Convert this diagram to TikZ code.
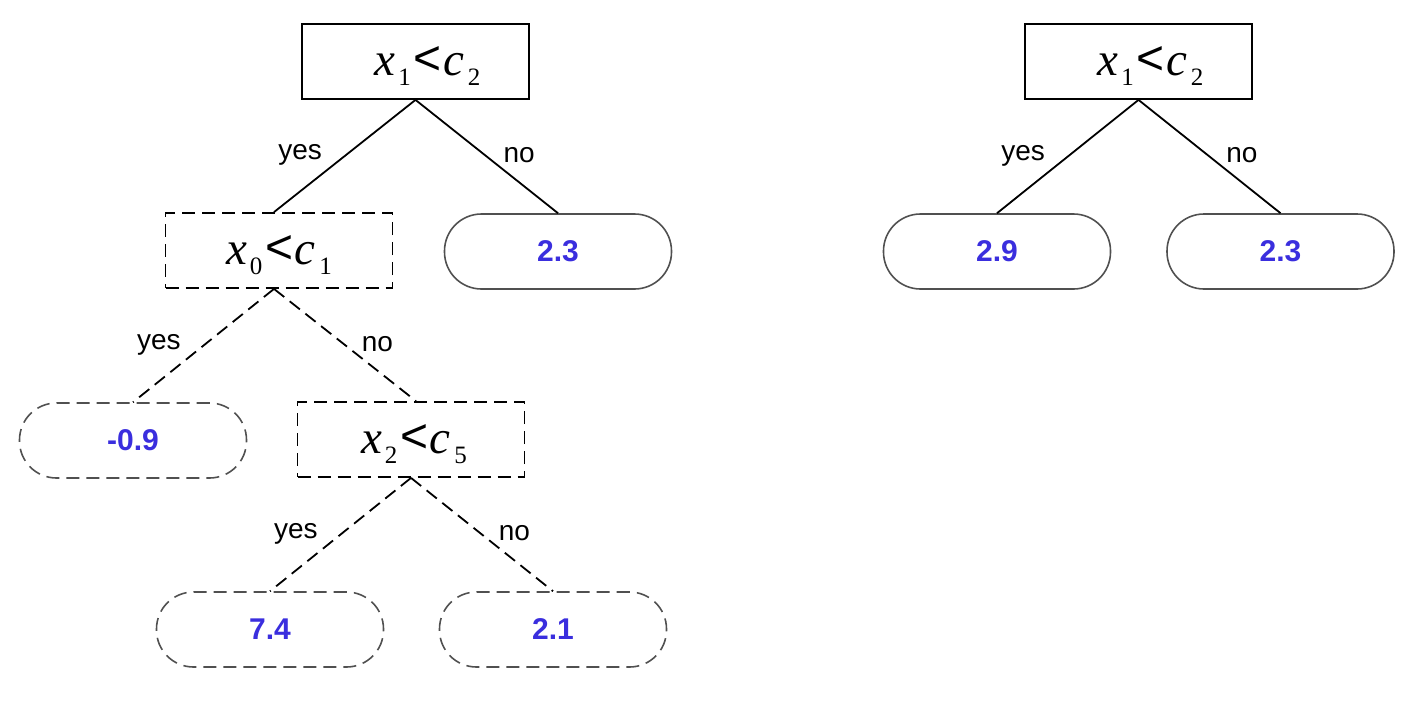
\documentclass[tikz,border=0pt]{standalone}
\usepackage{fontspec}
\setmainfont{Liberation Sans}
\newfontfamily\serf{Liberation Serif}
\usetikzlibrary{positioning}
\definecolor{numblue}{RGB}{58,46,222}
\definecolor{leafgray}{RGB}{80,80,80}
\newcommand{\subdig}[1]{\raisebox{-10pt}[0pt][0pt]{\serf\fontsize{25}{25}\selectfont #1}}
\newcommand{\cond}[4]{{\serf\fontsize{47}{47}\selectfont\itshape #1}\kern3pt\subdig{#2}\kern3pt{\fontsize{48}{48}\selectfont\raisebox{1pt}{<}}\kern1pt{\serf\fontsize{47}{47}\selectfont\itshape #3}\kern4pt\subdig{#4}}
\tikzset{
  dashpat/.style={dash pattern=on 13pt off 7pt},
  testbox/.style={draw=black, line width=1.8pt, minimum width=227pt, minimum height=75pt, inner sep=0pt},
  leafbox/.style={draw=leafgray, line width=1.6pt, rounded corners=37pt, minimum width=227pt, minimum height=75pt, inner sep=0pt,
     text=numblue, font=\bfseries\fontsize{30}{30}\selectfont},
  edgeline/.style={line width=1.8pt, draw=black},
  lab/.style={font=\fontsize{28}{28}\selectfont, inner sep=0pt},
  yeslab/.style={lab, midway, anchor=east, xshift=-22pt, yshift=1pt},
  nolab/.style={lab, midway, anchor=west, xshift=16pt, yshift=1pt}
}
\begin{document}
\begin{tikzpicture}[x=1pt,y=-1pt]
\useasboundingbox (0,0) rectangle (1403,720);
% left tree
\node[testbox] (r) at (415.5,61.5) {\hspace*{24pt}\cond{x}{1}{c}{2}};
\node[testbox, dashpat] (a) at (279,250.5) {\cond{x}{0}{c}{1}};
\node[leafbox] (l1) at (558,251.5) {2.3};
\node[leafbox, dashpat] (l2) at (133,440.5) {-0.9};
\node[testbox, dashpat] (b) at (411,439.5) {\hspace*{6pt}\cond{x}{2}{c}{5}};
\node[leafbox, dashpat] (l3) at (270,629.5) {7.4};
\node[leafbox, dashpat] (l4) at (553,629.5) {2.1};
\draw[edgeline] (r.south) -- node[yeslab] {yes} ([xshift=-5pt]a.north);
\draw[edgeline] (r.south) -- node[nolab] {no} (l1.north);
\draw[edgeline, dashpat] ([xshift=-5pt]a.south) -- node[yeslab] {yes} (l2.north);
\draw[edgeline, dashpat] ([xshift=-5pt]a.south) -- node[nolab] {no} ([xshift=5pt]b.north);
\draw[edgeline, dashpat] (b.south) -- node[yeslab] {yes} (l3.north);
\draw[edgeline, dashpat] (b.south) -- node[nolab] {no} (l4.north);
% right tree
\node[testbox] (r2) at (1138.5,61.5) {\hspace*{24pt}\cond{x}{1}{c}{2}};
\node[leafbox] (m1) at (997,251.5) {2.9};
\node[leafbox] (m2) at (1280.5,251.5) {2.3};
\draw[edgeline] (r2.south) -- node[yeslab] {yes} (m1.north);
\draw[edgeline] (r2.south) -- node[nolab] {no} (m2.north);
\end{tikzpicture}
\end{document}
